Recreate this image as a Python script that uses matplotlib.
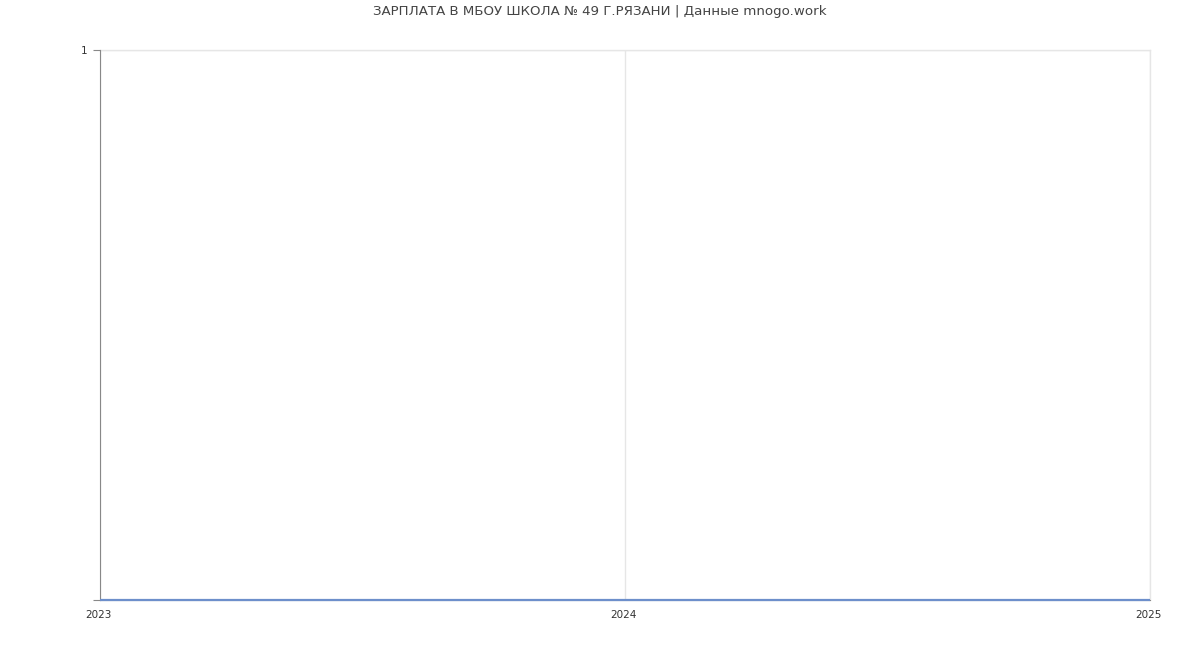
import matplotlib
matplotlib.use("Agg")
import matplotlib.pyplot as plt
import matplotlib.transforms as mtransforms

years = [2023, 2024, 2025]
salary = [0, 0, 0]
y_ticks = [0, 1]
y_tick_labels = ["", "1"]
title = "ЗАРПЛАТА В МБОУ ШКОЛА № 49 Г.РЯЗАНИ | Данные mnogo.work"

plt.rcParams['font.family'] = ['DejaVu Sans']
fig = plt.figure(figsize=(12, 6.5), dpi=100)
ax = fig.add_axes([100/1200, 1-600/650, 1050/1200, 550/650])

ax.plot(years, salary, color="#6d8fcb", linewidth=1.6, zorder=3, clip_on=False,
        solid_capstyle="butt")
ax.set_xlim(2023, 2025)
ax.set_ylim(0, 1)
ax.set_xticks(years)
ax.set_xticklabels([""] * len(years))
base = mtransforms.blended_transform_factory(ax.transData, ax.transAxes)
offset = mtransforms.ScaledTranslation(-2/100, -15/100, fig.dpi_scale_trans)
for y in years:
    ax.text(y, 0, str(y), transform=base + offset, ha="center", va="center",
            fontsize=7.5, color="#333333", clip_on=False)
ax.set_yticks(y_ticks)
ax.set_yticklabels(y_tick_labels, fontsize=7.5, color="#333333")
ax.tick_params(axis='x', length=0, pad=9)
ax.tick_params(axis='y', length=5, color="#888888", pad=4)
ax.grid(True, color="#e6e6e6", linewidth=1)
ax.set_axisbelow(True)
for s in ["top", "right"]:
    ax.spines[s].set_visible(False)
ax.spines["left"].set_color("#888888")
ax.spines["bottom"].set_color("#888888")
ax.axvline(2025, color="#e6e6e6", linewidth=1, zorder=0, clip_on=False)
ax.axhline(1, color="#e6e6e6", linewidth=1, zorder=0, clip_on=False)

fig.text(0.5, 1-12/650, title, ha="center", va="center", fontsize=9.6, color="#444444")
fig.savefig("out.png", dpi=100, facecolor="white")
